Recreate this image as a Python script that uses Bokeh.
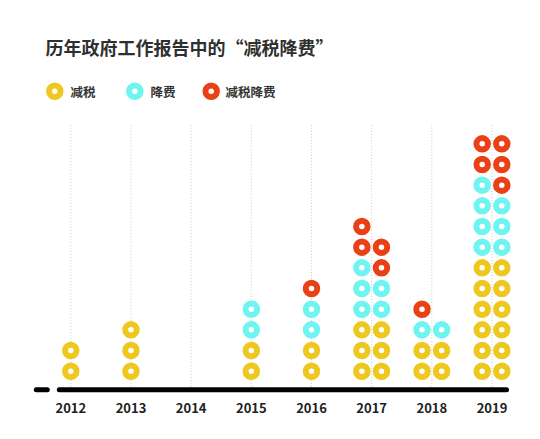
from bokeh.plotting import figure
from bokeh.models import Range1d
from bokeh.embed import file_html
from bokeh.resources import INLINE
from bokeh.core.properties import value

# ---------------- data ----------------
years = [2012, 2013, 2014, 2015, 2016, 2017, 2018, 2019]
year_labels = [str(y) for y in years]
# counts per column (bottom to top: 减税, 降费, 减税降费)
tax_cut_col1 = [2, 3, 0, 2, 2, 3, 2, 6]
fee_cut_col1 = [0, 0, 0, 2, 2, 3, 1, 4]
both_col1 = [0, 0, 0, 0, 1, 2, 1, 2]
tax_cut_col2 = [0, 0, 0, 0, 0, 3, 2, 6]
fee_cut_col2 = [0, 0, 0, 0, 0, 2, 1, 3]
both_col2 = [0, 0, 0, 0, 0, 2, 0, 3]
series_names = ["减税", "降费", "减税降费"]
series_colors = ["#EEC81F", "#6EF4F1", "#EA4016"]
title_text = "历年政府工作报告中的“减税降费”"

# ---------------- layout ----------------
W, H = 540, 439
X_STEP = 60.17     # px per year
X0_PX = 70.3       # frame px of first year
ROW = 20.67        # px per stacked dot
ROW0_PX = 370.7    # frame px (from top) of first dot row

x_start = years[0] - X0_PX / X_STEP
x_end = x_start + W / X_STEP
y_end = ROW0_PX / ROW
y_start = y_end - H / ROW


def px(xf):
    return x_start + xf / X_STEP


def py(yf):
    return y_end - yf / ROW


def dx(pixels):
    return pixels / X_STEP


FONT = value("Noto Sans CJK SC")

p = figure(width=W, height=H, output_backend="svg", toolbar_location=None,
           x_range=Range1d(x_start, x_end), y_range=Range1d(y_start, y_end),
           x_axis_type=None, y_axis_type=None, min_border=0,
           background_fill_color="white", border_fill_color="white")
p.outline_line_color = None
p.grid.visible = False

# vertical dotted guide lines
axis_y = py(389.3)
p.segment(x0=years, x1=years, y0=[axis_y] * len(years), y1=[py(123)] * len(years),
          line_color="#c8c8c8", line_width=1, line_dash="1 2")

# dots
xs, ys, cs = [], [], []
for i, yr in enumerate(years):
    cols = [(tax_cut_col1[i], fee_cut_col1[i], both_col1[i])]
    if tax_cut_col2[i] + fee_cut_col2[i] + both_col2[i] > 0:
        cols.append((tax_cut_col2[i], fee_cut_col2[i], both_col2[i]))
    n = len(cols)
    for ci, counts in enumerate(cols):
        off = 0 if n == 1 else (-9.8 if ci == 0 else 9.8)
        row = 0
        for si, cnt in enumerate(counts):
            for _ in range(cnt):
                xs.append(yr + dx(off))
                ys.append(row)
                cs.append(series_colors[si])
                row += 1
p.scatter(x=xs, y=ys, size=11.5, fill_color="white", line_color=cs, line_width=6)

# baseline
p.segment(x0=[years[0] - dx(11.5)], x1=[years[-1] + dx(14.5)], y0=[axis_y], y1=[axis_y],
          line_color="black", line_width=5, line_cap="round")
p.segment(x0=[years[0] - dx(34.5)], x1=[years[0] - dx(23.5)], y0=[axis_y], y1=[axis_y],
          line_color="black", line_width=5, line_cap="round")

# year labels
p.text(x=years, y=[py(407.7)] * len(years), text=year_labels, text_align="center",
       text_baseline="middle", text_font=FONT, text_font_size="13px",
       text_font_style="bold", text_color="#222222")

# title
p.text(x=[px(45)], y=[py(46.7)], text=[title_text], text_align="left",
       text_baseline="middle", text_font=FONT, text_font_size="18px",
       text_font_style="bold", text_color="#2f2f2f")

# legend
leg_x = [54.3, 134.3, 210.7]
leg_tx = [70, 150, 225]
p.scatter(x=[px(v) for v in leg_x], y=[py(90.7)] * 3, size=11.5, fill_color="white",
          line_color=series_colors, line_width=6)
p.text(x=[px(v) for v in leg_tx], y=[py(90.5)] * 3, text=series_names, text_align="left",
       text_baseline="middle", text_font=FONT, text_font_size="12.5px",
       text_font_style="bold", text_color="#333333")

open("out.html", "w").write(file_html(p, INLINE))
